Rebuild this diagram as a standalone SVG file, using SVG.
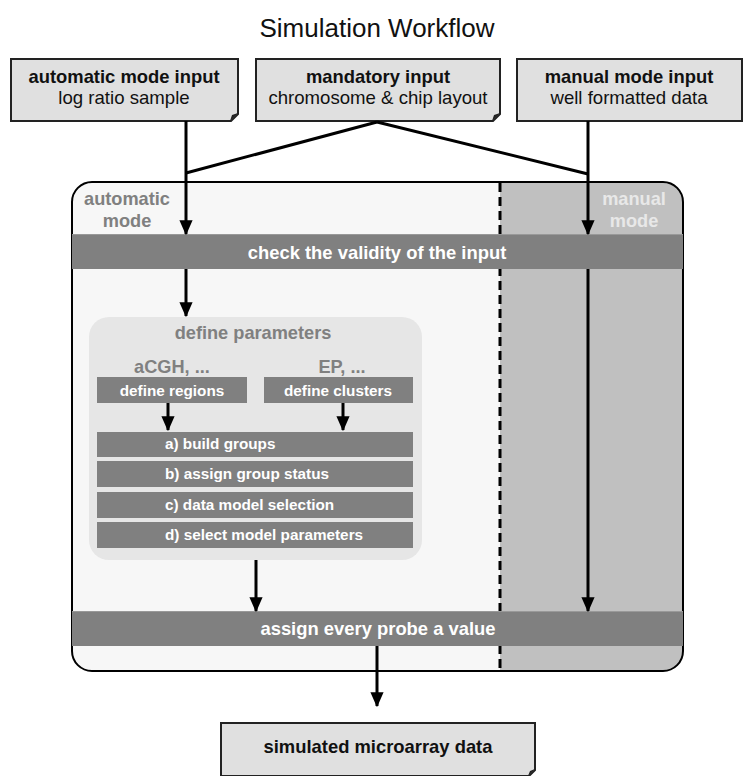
<svg xmlns="http://www.w3.org/2000/svg" width="754" height="776" viewBox="0 0 754 776">
<defs>
<marker id="ah" markerWidth="5" markerHeight="4.4" refX="4.6" refY="2.2" orient="auto" markerUnits="strokeWidth">
<path d="M0,0 L5,2.2 L0,4.4 Z" fill="#000"/>
</marker>
<clipPath id="mainclip"><rect x="72" y="182" width="611" height="489" rx="20" ry="20"/></clipPath>
</defs>
<style>
text{font-family:"Liberation Sans",Arial,sans-serif}
.doc{fill:#e0e0e0;stroke:#222;stroke-width:2}
.fold{fill:#222}
.b{font-weight:bold;font-size:18.4px;fill:#111}
.n{font-size:18.6px;fill:#111}
.bar{fill:#808080}
.wt{font-weight:bold;fill:#fff;font-size:18.4px}
.st{font-weight:bold;fill:#fff;font-size:15.3px}
.gl{font-weight:bold;fill:#808080;font-size:18.2px}
.conn{stroke:#000;stroke-width:3;fill:none}
.arr{stroke:#000;stroke-width:3;fill:none;marker-end:url(#ah)}
</style>
<rect width="754" height="776" fill="#fff"/>
<text x="377" y="37" text-anchor="middle" font-size="26" fill="#111">Simulation Workflow</text>

<g id="main-container">
<g clip-path="url(#mainclip)">
<rect x="72" y="182" width="428" height="489" fill="#f7f7f7"/>
<rect x="500" y="182" width="183" height="489" fill="#c0c0c0"/>
</g>
<rect x="72" y="182" width="611" height="489" rx="20" ry="20" fill="none" stroke="#000" stroke-width="2"/>
<line x1="500" y1="183" x2="500" y2="670" stroke="#000" stroke-width="3" stroke-dasharray="9,5"/>
<text x="127" y="205" text-anchor="middle" class="gl">automatic</text>
<text x="127" y="227" text-anchor="middle" class="gl">mode</text>
<text x="634" y="205" text-anchor="middle" class="gl" style="fill:#e8e8e8">manual</text>
<text x="634" y="227" text-anchor="middle" class="gl" style="fill:#e8e8e8">mode</text>
</g>

<g id="auto-input">
<path class="doc" d="M11,59 H238 V114 L231,121 H11 Z"/>
<path class="fold" d="M238,113 L230,121 L232,115 Z"/>
<text x="124" y="83" text-anchor="middle" class="b">automatic mode input</text>
<text x="124" y="104" text-anchor="middle" class="n">log ratio sample</text>
</g>
<g id="mandatory-input">
<path class="doc" d="M256,59 H500 V114 L493,121 H256 Z"/>
<path class="fold" d="M500,113 L492,121 L494,115 Z"/>
<text x="378" y="83" text-anchor="middle" class="b">mandatory input</text>
<text x="378" y="104" text-anchor="middle" class="n">chromosome &amp; chip layout</text>
</g>
<g id="manual-input">
<rect class="doc" x="517" y="59" width="225" height="62"/>
<text x="629" y="83" text-anchor="middle" class="b">manual mode input</text>
<text x="629" y="104" text-anchor="middle" class="n">well formatted data</text>
</g>

<g id="check">
<rect class="bar" x="72" y="234" width="611" height="35"/>
<line x1="72" y1="234.5" x2="683" y2="234.5" stroke="#999" stroke-width="1"/>
<text x="377" y="259" text-anchor="middle" class="wt">check the validity of the input</text>
</g>

<g id="define-parameters">
<rect x="89" y="317" width="333" height="243" rx="20" ry="20" fill="#e6e6e6"/>
<text x="253" y="339" text-anchor="middle" class="gl">define parameters</text>
<text x="172" y="373" text-anchor="middle" class="gl">aCGH, ...</text>
<text x="342" y="373" text-anchor="middle" class="gl">EP, ...</text>
</g>
<g id="define-regions">
<rect class="bar" x="97" y="377" width="150" height="26"/>
<text x="172" y="396" text-anchor="middle" class="st">define regions</text>
</g>
<g id="define-clusters">
<rect class="bar" x="264" y="377" width="149" height="26"/>
<text x="338" y="396" text-anchor="middle" class="st">define clusters</text>
</g>
<g id="build-groups">
<rect class="bar" x="97" y="432" width="316" height="25"/>
<text x="165" y="449" class="st">a) build groups</text>
</g>
<g id="assign-status">
<rect class="bar" x="97" y="461" width="316" height="26"/>
<text x="165" y="479" class="st">b) assign group status</text>
</g>
<g id="model-selection">
<rect class="bar" x="97" y="492" width="316" height="26"/>
<text x="165" y="510" class="st">c) data model selection</text>
</g>
<g id="model-parameters">
<rect class="bar" x="97" y="522" width="316" height="26"/>
<text x="165" y="540" class="st">d) select model parameters</text>
</g>

<g id="assign">
<rect class="bar" x="72" y="611" width="611" height="35"/>
<line x1="72" y1="611.5" x2="683" y2="611.5" stroke="#999" stroke-width="1"/>
<text x="378" y="635" text-anchor="middle" class="wt">assign every probe a value</text>
</g>

<g id="output">
<path class="doc" d="M221,723 H535 V770 L529,776 H221 Z"/>
<path class="fold" d="M535,769 L528,776 L530,771 Z"/>
<text x="378" y="753" text-anchor="middle" class="b">simulated microarray data</text>
</g>

<g id="connectors">
<line class="conn" x1="377" y1="122" x2="186" y2="173"/>
<line class="conn" x1="377" y1="122" x2="588" y2="174"/>
<line class="arr" x1="186" y1="121" x2="186" y2="234"/>
<line class="arr" x1="588" y1="121" x2="588" y2="234"/>
<line class="arr" x1="186" y1="269" x2="186" y2="316"/>
<line class="arr" x1="588" y1="269" x2="588" y2="611"/>
<line class="arr" x1="168" y1="403" x2="168" y2="430"/>
<line class="arr" x1="343" y1="403" x2="343" y2="430"/>
<line class="arr" x1="256" y1="560" x2="256" y2="611"/>
<line class="arr" x1="377" y1="646" x2="377" y2="706"/>
</g>
</svg>
